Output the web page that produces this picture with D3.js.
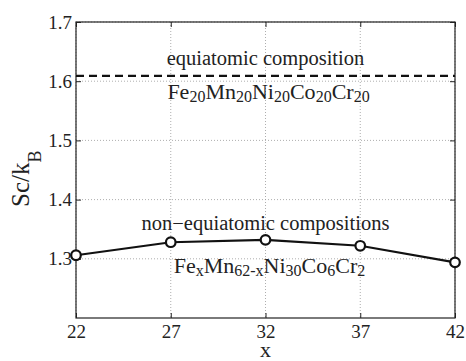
<!DOCTYPE html>
<html>
<head>
<meta charset="utf-8">
<script src="https://cdn.jsdelivr.net/npm/d3@7"></script>
<style>
body { margin: 0; background: #fff; }
.grid line { stroke: #999; stroke-dasharray: 1,2; stroke-width: 0.8; }
</style>
</head>
<body>
<svg width="466" height="361"></svg>
<script>
// data
var xs = [22, 27, 32, 37, 42];
var sc = [1.306, 1.328, 1.332, 1.322, 1.294];
var equiatomic = 1.609;
var xTicks = [22, 27, 32, 37, 42];
var yTicks = [1.3, 1.4, 1.5, 1.6, 1.7];

var serif = "Liberation Serif";
var svg = d3.select("svg");
var margin = {top: 22, right: 11, bottom: 43, left: 76};
var width = 466 - margin.left - margin.right;
var height = 361 - margin.top - margin.bottom;

var x = d3.scaleLinear().domain([22, 42]).range([0, width]);
var y = d3.scaleLinear().domain([1.2, 1.7]).range([height, 0]);

var g = svg.append("g")
    .attr("transform", "translate(" + margin.left + "," + margin.top + ")");

// dotted grid
var grid = g.append("g").attr("class", "grid");
grid.selectAll(".gx").data(xTicks).enter().append("line")
    .attr("x1", d => x(d)).attr("x2", d => x(d))
    .attr("y1", 0).attr("y2", height);
grid.selectAll(".gy").data(yTicks).enter().append("line")
    .attr("x1", 0).attr("x2", width)
    .attr("y1", d => y(d)).attr("y2", d => y(d));

// axes, ticks pointing inward, mirrored on top/right
function styleAxis(sel) {
  sel.attr("font-size", 19);
  sel.select(".domain").remove();
  sel.selectAll("line").attr("stroke", "#222");
  sel.selectAll("text").attr("fill", "#222");
}
g.append("g").attr("transform", "translate(0," + height + ")")
  .call(d3.axisBottom(x).tickValues(xTicks).tickSizeInner(-5).tickPadding(7).tickFormat(d3.format("d")))
  .call(styleAxis);
g.append("g")
  .call(d3.axisLeft(y).tickValues(yTicks).tickSizeInner(-5).tickPadding(4).tickFormat(d3.format(".1f")))
  .call(styleAxis);
g.append("g")
  .call(d3.axisTop(x).tickValues(xTicks).tickSizeInner(-5).tickFormat(""))
  .call(styleAxis);
g.append("g").attr("transform", "translate(" + width + ",0)")
  .call(d3.axisRight(y).tickValues(yTicks).tickSizeInner(-5).tickFormat(""))
  .call(styleAxis);

g.append("rect")
  .attr("width", width).attr("height", height)
  .attr("fill", "none").attr("stroke", "#222").attr("stroke-width", 1.2);

// equiatomic dashed line
g.append("line")
  .attr("x1", 0).attr("x2", width)
  .attr("y1", y(equiatomic)).attr("y2", y(equiatomic))
  .attr("stroke", "#111").attr("stroke-width", 2.4)
  .attr("stroke-dasharray", "8,5");

// data line and markers
var pts = xs.map((d, i) => [d, sc[i]]);
g.append("path")
  .datum(pts)
  .attr("fill", "none").attr("stroke", "#111").attr("stroke-width", 2.2)
  .attr("d", d3.line().x(d => x(d[0])).y(d => y(d[1])));
g.selectAll(".pt").data(pts).enter().append("circle")
  .attr("cx", d => x(d[0])).attr("cy", d => y(d[1]))
  .attr("r", 4.8)
  .attr("fill", "#fff").attr("stroke", "#111").attr("stroke-width", 2.2);

// annotations
function formula(t, parts) {
  var shift = 0;
  parts.forEach(function(p) {
    t.append("tspan").attr("dy", -shift).text(p[0]);
    t.append("tspan").attr("font-size", 16).attr("dy", 3).text(p[1]);
    shift = 3;
  });
}
function label(px, py, txt, size) {
  return g.append("text").attr("x", px).attr("y", py)
    .attr("text-anchor", "middle").attr("font-size", size).attr("fill", "#222")
    .text(txt);
}
label(x(32), 43, "equiatomic composition", 20.5);
var f1 = label(x(32) + 3, 77, "", 22);
formula(f1, [["Fe", "20"], ["Mn", "20"], ["Ni", "20"], ["Co", "20"], ["Cr", "20"]]);

label(x(32), 208, "non\u2212equiatomic compositions", 20.5);
var f2 = label(x(32) + 4, 251, "", 22);
formula(f2, [["Fe", "x"], ["Mn", "62-x"], ["Ni", "30"], ["Co", "6"], ["Cr", "2"]]);

// axis labels
svg.append("text").attr("x", margin.left + x(32)).attr("y", 357)
  .attr("text-anchor", "middle").attr("font-size", 22).attr("fill", "#222").text("x");
var yl = svg.append("text")
  .attr("transform", "translate(29,207) rotate(-90)")
  .attr("font-size", 25).attr("fill", "#222");
yl.append("tspan").text("Sc/k");
yl.append("tspan").attr("font-size", 18).attr("dy", 12).text("B");

svg.selectAll("text").style("font-family", serif);
</script>
</body>
</html>
